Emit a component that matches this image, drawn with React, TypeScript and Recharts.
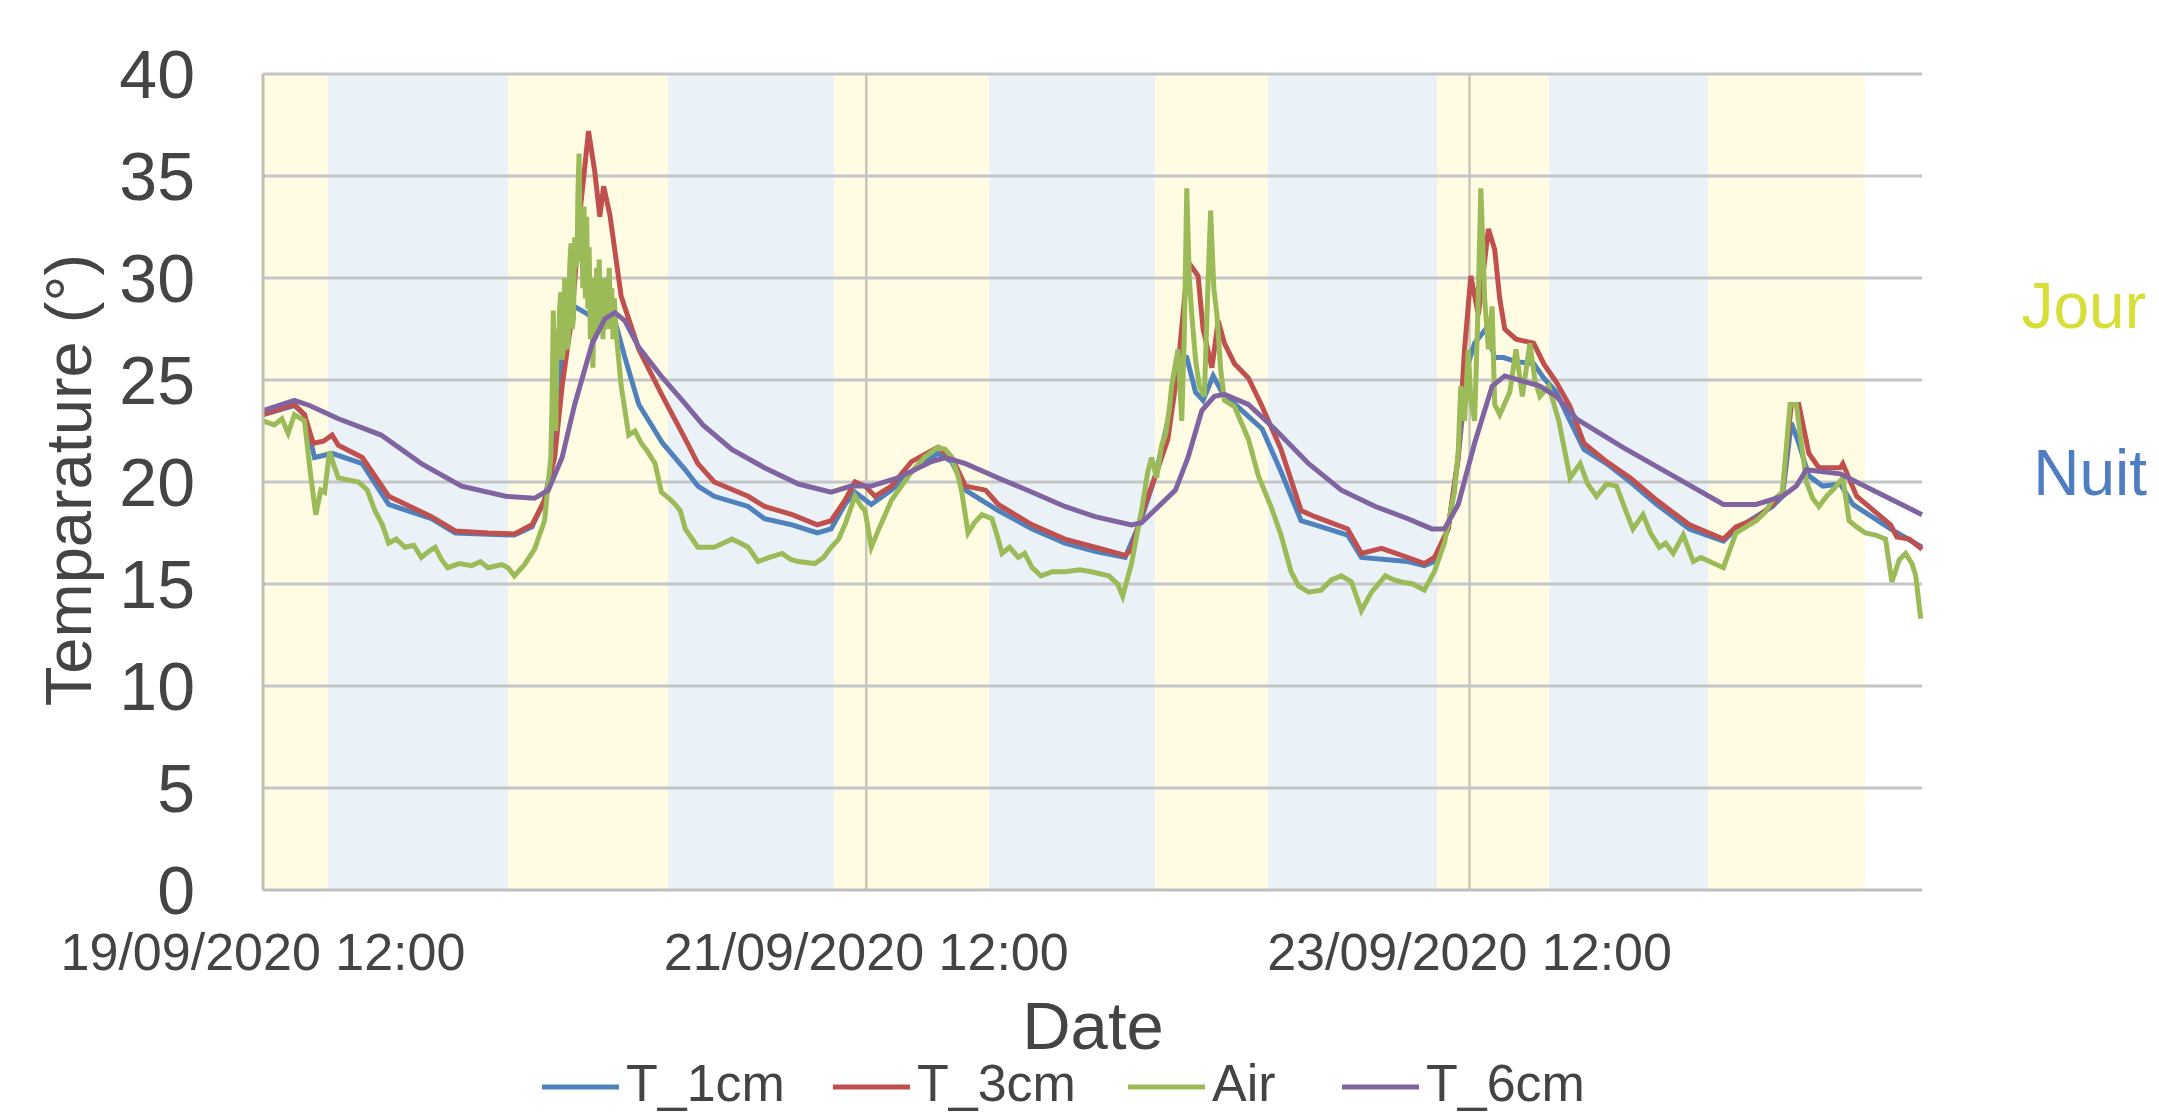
import { LineChart, Line, XAxis, YAxis, CartesianGrid, ReferenceLine, Label } from 'recharts'

// x values are hours elapsed since 19/09/2020 12:00
const X_MAX = 132
const xTicks = [0, 48, 96]
const xTickLabels = ['19/09/2020 12:00', '21/09/2020 12:00', '23/09/2020 12:00']
const yTicks = [0, 5, 10, 15, 20, 25, 30, 35, 40]

// day / night periods [start, end] in hours
const jourPeriods = [[0, 5.2], [19.5, 32.2], [45.4, 57.8], [71.0, 80.0], [93.4, 102.3], [115.0, 127.5]]
const nuitPeriods = [[5.2, 19.5], [32.2, 45.4], [57.8, 71.0], [80.0, 93.4], [102.3, 115.0]]

// [hour, °C]
const t1cm = [
  [0, 23.3], [2.5, 23.75], [3.3, 23.3], [4.1, 21.2], [5.5, 21.4], [7.9, 20.9], [10.0, 18.9], [13.4, 18.2],
  [15.3, 17.5], [20.0, 17.4], [21.4, 17.8], [22.4, 19.1], [23.2, 21.6], [24.0, 27.9], [24.8, 28.6], [25.9, 28.2],
  [27.0, 27.5], [28.0, 27.9], [28.8, 26.1], [29.9, 23.8], [31.8, 21.9], [33.6, 20.6], [34.6, 19.8], [35.9, 19.3],
  [38.6, 18.8], [39.9, 18.2], [42.1, 17.9], [44.1, 17.5], [45.2, 17.7], [46.3, 18.9], [47.1, 19.5], [48.4, 18.9],
  [50.0, 19.6], [51.6, 20.5], [53.7, 21.4], [54.8, 21.0], [55.9, 19.6], [58.5, 18.6], [61.2, 17.7], [63.8, 17.0],
  [66.2, 16.6], [68.6, 16.3], [69.9, 18.2], [71.0, 20.3], [72.0, 23.0], [72.8, 26.3], [73.5, 26.1], [74.2, 24.4],
  [74.8, 24.0], [75.6, 25.2], [76.3, 24.4], [77.9, 23.5], [79.5, 22.6], [81.0, 20.5], [82.6, 18.1], [83.7, 17.9],
  [86.3, 17.4], [87.4, 16.3], [91.1, 16.1], [92.4, 15.9], [93.2, 16.1], [94.3, 17.7], [95.1, 21.2], [95.8, 25.6],
  [96.4, 26.8], [97.3, 27.5], [98.0, 26.1], [98.7, 26.1], [99.7, 25.9], [101.1, 25.8], [101.9, 25.1], [102.9, 24.4],
  [104.0, 23.0], [105.1, 21.6], [106.9, 20.9], [108.8, 20.0], [110.9, 18.9], [113.5, 17.7], [116.2, 17.1], [117.2, 17.7],
  [120.1, 18.8], [120.9, 19.3], [121.6, 22.9], [122.2, 21.9], [123.0, 20.3], [124.1, 19.8], [125.5, 19.9], [126.5, 18.9],
  [129.5, 17.7], [132, 16.8],
]

const t3cm = [
  [0, 23.3], [2.5, 23.8], [3.3, 23.3], [4.0, 21.9], [4.8, 22.0], [5.5, 22.3], [6.0, 21.8], [7.9, 21.2],
  [10.0, 19.3], [13.4, 18.3], [15.3, 17.6], [17.9, 17.5], [20.0, 17.45], [21.4, 17.9], [22.4, 19.1], [23.2, 21.2],
  [23.8, 24.7], [24.6, 28.2], [25.2, 33.1], [25.9, 37.2], [26.4, 35.2], [26.8, 33.0], [27.1, 34.5], [27.6, 33.1],
  [28.5, 29.1], [29.9, 26.5], [31.8, 24.2], [33.6, 22.1], [34.6, 20.9], [35.9, 20.0], [38.6, 19.3], [39.9, 18.8],
  [42.1, 18.4], [44.1, 17.9], [45.2, 18.1], [46.3, 19.1], [47.1, 20.0], [47.9, 19.8], [48.7, 19.3], [50.0, 19.8],
  [51.6, 21.0], [53.7, 21.7], [54.8, 21.2], [55.9, 19.8], [57.5, 19.6], [58.5, 18.9], [61.2, 17.9], [63.8, 17.2],
  [66.2, 16.8], [68.6, 16.4], [69.1, 16.7], [69.9, 18.4], [71.0, 20.3], [72.0, 22.1], [72.8, 25.6], [73.6, 30.8],
  [74.4, 30.1], [74.8, 27.5], [75.5, 25.6], [76.0, 27.9], [76.5, 26.8], [77.3, 25.8], [78.4, 25.1], [79.5, 23.7],
  [81.0, 21.6], [82.6, 18.6], [83.7, 18.3], [86.3, 17.7], [87.4, 16.5], [89.0, 16.75], [91.1, 16.3], [92.4, 16.0],
  [93.2, 16.3], [94.3, 17.7], [95.1, 21.2], [95.6, 26.5], [96.1, 30.1], [96.7, 28.2], [97.5, 32.4], [98.0, 31.4],
  [98.4, 29.0], [98.8, 27.5], [99.7, 27.0], [101.1, 26.8], [101.9, 25.8], [102.9, 24.9], [104.0, 23.7], [105.1, 21.9],
  [106.9, 21.0], [108.8, 20.2], [110.9, 19.1], [113.5, 17.9], [116.2, 17.2], [117.2, 17.8], [118.8, 18.2], [120.1, 18.9],
  [120.9, 19.5], [121.6, 23.8], [122.2, 23.8], [123.0, 21.4], [123.8, 20.7], [125.5, 20.7], [125.7, 20.9], [126.8, 19.3],
  [129.5, 17.9], [130.0, 17.3], [131.0, 17.2], [132, 16.7],
]

const air = [
  [0, 23.0], [0.9, 22.8], [1.5, 23.1], [2.0, 22.4], [2.5, 23.3], [3.3, 23.0], [3.8, 20.3], [4.2, 18.4],
  [4.6, 19.6], [4.9, 19.5], [5.3, 21.5], [5.6, 20.9], [6.0, 20.2], [7.6, 20.0], [8.3, 19.6], [8.9, 18.6],
  [9.5, 17.9], [10.0, 17.0], [10.6, 17.2], [11.3, 16.8], [12.0, 16.9], [12.6, 16.3], [13.2, 16.6], [13.7, 16.8],
  [14.2, 16.2], [14.7, 15.8], [15.6, 16.0], [16.6, 15.9], [17.3, 16.1], [17.9, 15.8], [19.0, 15.95], [19.5, 15.8],
  [20.0, 15.4], [20.8, 15.95], [21.6, 16.7], [22.4, 18.1], [22.9, 21.2],
  [23.0, 24.0], [23.1, 28.4], [23.2, 24.5], [23.3, 22.5], [23.4, 27.5], [23.5, 26.0], [23.6, 28.5], [23.7, 29.3],
  [23.8, 26.0], [23.9, 26.5], [24.0, 30.0], [24.1, 28.8], [24.2, 26.5], [24.3, 27.0], [24.4, 30.5], [24.5, 31.7],
  [24.6, 27.5], [24.7, 28.0], [24.8, 32.0], [24.9, 30.5], [25.0, 31.0], [25.05, 34.0], [25.15, 36.1], [25.25, 30.8],
  [25.35, 33.0], [25.45, 29.5], [25.55, 33.5], [25.65, 29.0], [25.75, 33.0], [25.85, 28.5], [25.95, 31.5], [26.05, 27.0],
  [26.15, 30.0], [26.25, 25.6], [26.35, 29.0], [26.45, 27.0], [26.55, 30.5], [26.65, 28.0], [26.75, 30.9], [26.85, 27.5],
  [26.95, 29.5], [27.05, 27.0], [27.15, 30.0], [27.25, 27.5], [27.35, 29.0], [27.45, 28.0], [27.55, 30.5], [27.65, 27.5],
  [27.75, 29.5], [27.85, 27.0], [27.95, 29.0], [28.1, 27.3], [28.5, 24.7], [29.1, 22.3], [29.6, 22.5], [30.1, 21.9],
  [30.6, 21.5], [31.2, 20.9], [31.7, 19.5], [32.3, 19.2], [32.8, 18.9], [33.2, 18.6], [33.6, 17.7], [34.6, 16.8],
  [35.9, 16.8], [36.6, 17.0], [37.3, 17.2], [38.0, 17.0], [38.6, 16.8], [39.4, 16.1], [40.3, 16.3], [41.3, 16.5],
  [42.0, 16.2], [42.6, 16.1], [43.9, 16.0], [44.6, 16.3], [45.2, 16.8], [45.8, 17.2], [46.3, 17.9], [47.1, 19.3],
  [47.6, 18.8], [47.9, 18.6], [48.4, 16.8], [49.0, 17.7], [49.5, 18.4], [50.0, 19.1], [50.8, 19.8], [51.6, 20.5],
  [52.6, 21.2], [53.7, 21.7], [54.3, 21.6], [54.8, 21.2], [55.3, 20.3], [55.6, 19.5], [56.1, 17.5], [56.6, 18.0],
  [57.2, 18.4], [58.0, 18.2], [58.4, 17.4], [58.8, 16.5], [59.4, 16.8], [60.1, 16.3], [60.6, 16.5], [61.2, 15.8],
  [61.9, 15.4], [62.8, 15.6], [63.8, 15.6], [65.0, 15.7], [65.9, 15.6], [67.3, 15.4], [68.0, 15.0], [68.4, 14.4],
  [69.1, 16.0], [69.9, 18.6], [70.4, 20.5], [70.7, 21.2], [71.1, 20.2], [71.5, 21.8], [71.8, 22.3], [72.1, 23.5],
  [72.3, 24.7], [72.6, 25.8], [72.8, 26.5], [73.1, 23.0], [73.3, 27.0], [73.5, 34.4], [73.7, 30.0], [73.9, 28.2],
  [74.2, 26.0], [74.5, 24.7], [74.9, 24.2], [75.15, 29.0], [75.4, 33.3], [75.65, 29.5], [75.9, 28.2], [76.2, 25.5],
  [76.5, 24.0], [77.3, 23.7], [78.4, 22.1], [79.2, 20.3], [80.2, 18.8], [81.0, 17.4], [81.8, 15.6], [82.4, 14.9],
  [83.2, 14.6], [84.2, 14.7], [85.0, 15.2], [85.8, 15.4], [86.6, 15.1], [87.4, 13.7], [88.2, 14.6], [89.3, 15.4],
  [90.0, 15.2], [90.6, 15.1], [91.5, 15.0], [92.4, 14.7], [93.2, 15.6], [94.0, 17.0], [94.8, 19.5], [95.1, 21.5],
  [95.3, 24.7], [95.6, 23.0], [95.9, 26.5], [96.1, 24.0], [96.4, 23.0], [96.65, 28.0], [96.9, 34.4], [97.2, 29.0],
  [97.5, 26.5], [97.8, 28.6], [98.0, 23.8], [98.4, 23.3], [99.2, 24.4], [99.7, 26.5], [100.2, 24.2], [100.8, 26.8],
  [101.2, 25.0], [101.6, 24.2], [102.3, 24.7], [103.1, 23.0], [104.0, 20.2], [104.8, 20.9], [105.4, 19.9], [106.1, 19.3],
  [106.9, 19.9], [107.7, 19.8], [108.3, 18.8], [109.0, 17.7], [109.8, 18.4], [110.4, 17.5], [111.1, 16.8], [111.6, 17.0],
  [112.2, 16.5], [113.0, 17.4], [113.8, 16.1], [114.4, 16.3], [115.1, 16.1], [116.2, 15.8], [117.2, 17.5], [118.0, 17.8],
  [118.8, 18.1], [119.5, 18.5], [120.1, 19.1], [120.9, 19.5], [121.5, 23.8], [122.0, 23.8], [122.8, 20.0], [123.3, 19.2],
  [123.8, 18.8], [124.4, 19.3], [124.9, 19.6], [125.7, 20.2], [126.2, 18.1], [126.8, 17.8], [127.5, 17.5], [128.3, 17.4],
  [129.1, 17.2], [129.6, 15.1], [130.2, 16.2], [130.7, 16.5], [131.2, 16.0], [131.5, 15.4], [131.9, 13.3],
]

const t6cm = [
  [0, 23.5], [2.5, 24.0], [3.7, 23.75], [6.0, 23.1], [9.4, 22.3], [12.6, 20.9], [15.8, 19.8], [19.3, 19.3],
  [21.6, 19.2], [22.7, 19.6], [23.8, 21.2], [24.8, 23.8], [26.2, 26.8], [27.2, 28.0], [28.0, 28.3], [28.8, 27.9],
  [29.9, 26.6], [31.8, 25.1], [33.5, 23.9], [35.0, 22.8], [37.3, 21.6], [39.9, 20.7], [42.6, 19.9], [45.2, 19.5],
  [46.8, 19.8], [48.4, 19.8], [50.5, 20.2], [53.2, 21.0], [54.3, 21.2], [55.9, 20.9], [58.5, 20.2], [61.2, 19.5],
  [63.8, 18.8], [66.2, 18.3], [69.1, 17.9], [69.9, 18.0], [72.6, 19.6], [73.6, 21.2], [74.7, 23.5], [75.7, 24.2],
  [76.5, 24.3], [78.4, 23.8], [80.5, 22.6], [83.2, 20.9], [85.8, 19.6], [88.5, 18.8], [91.1, 18.2], [93.0, 17.7],
  [94.0, 17.7], [95.1, 18.9], [96.4, 21.9], [97.8, 24.7], [98.8, 25.2], [101.6, 24.7], [102.9, 24.2], [104.5, 23.1],
  [108.2, 21.7], [112.2, 20.3], [116.2, 18.9], [118.8, 18.9], [120.9, 19.3], [122.0, 19.8], [122.8, 20.6], [125.5, 20.4],
  [128.1, 19.6], [132, 18.4],
]

const series = [
  { name: 'T_1cm', color: '#4F81BD', points: t1cm },
  { name: 'T_3cm', color: '#C0504D', points: t3cm },
  { name: 'Air', color: '#9BBB59', points: air },
  { name: 'T_6cm', color: '#8064A2', points: t6cm },
]

const FONT = '"Liberation Sans", Arial, sans-serif'
const TEXT = '#444444'
const JOUR_FILL = '#FFFCE3'
const NUIT_FILL = '#EAF2F7'
const GRID = '#C3C5C8'

// stripe boundaries (hours) and their fills, day and night interleaved, nothing after the last day
const stripes = [...jourPeriods.map((p) => ({ start: p[0], fill: JOUR_FILL })), ...nuitPeriods.map((p) => ({ start: p[0], fill: NUIT_FILL }))]
  .sort((a, b) => a.start - b.start)
  .concat([{ start: jourPeriods[jourPeriods.length - 1][1], fill: 'none' }])

const toRows = (pts: number[][]) => pts.map(([h, v]) => ({ h, v }))

const hourToX = (xAxis: any, offset: any, h: number) =>
  xAxis && typeof xAxis.scale === 'function' ? xAxis.scale(h) : offset.left + (h / X_MAX) * offset.width

const YTick = (props: any) => (
  <text x={props.x - 66} y={props.y} dy="0.36em" textAnchor="end" fontSize={68} fill={TEXT} fontFamily={FONT}>
    {props.payload.value}
  </text>
)

const XTick = (props: any) => {
  const i = xTicks.indexOf(props.payload.value)
  return (
    <text x={props.x} y={props.y + 78} textAnchor="middle" fontSize={52} fill={TEXT} fontFamily={FONT}>
      {xTickLabels[i]}
    </text>
  )
}

// legend positions along the bottom edge
const legendX = [542, 833, 1128, 1342]

export default function App() {
  return (
    <div style={{ position: 'absolute', left: 0, top: 0, width: 2159, height: 1115, background: '#fff', overflow: 'hidden' }}>
      <LineChart width={2159} height={1115} margin={{ top: 74, right: 237, left: 0, bottom: 0 }}>
        {/* day / night bands */}
        <CartesianGrid
          horizontal={false}
          vertical
          stroke="none"
          strokeWidth={0}
          verticalFill={stripes.map((s) => s.fill)}
          fillOpacity={1}
          verticalCoordinatesGenerator={({ xAxis, offset }: any) => stripes.map((s) => hourToX(xAxis, offset, s.start))}
        />
        <CartesianGrid
          horizontal={false}
          vertical
          stroke="#C8C6B4"
          strokeWidth={2.5}
          verticalCoordinatesGenerator={({ xAxis, offset }: any) => xTicks.slice(1).map((h) => hourToX(xAxis, offset, h))}
        />
        {yTicks.slice(1).map((v) => (
          <ReferenceLine key={v} y={v} stroke={GRID} strokeWidth={3} />
        ))}
        <XAxis
          type="number"
          dataKey="h"
          domain={[0, X_MAX]}
          ticks={xTicks}
          interval={0}
          height={225}
          tick={<XTick />}
          tickLine={false}
          tickSize={0}
          axisLine={{ stroke: '#BFBFBF', strokeWidth: 3 }}
          allowDuplicatedCategory={false}
        >
          <Label
            content={() => (
              <text x={1093} y={1049} textAnchor="middle" fontSize={67} fill={TEXT} fontFamily={FONT}>
                Date
              </text>
            )}
          />
        </XAxis>
        <YAxis
          type="number"
          domain={[0, 40]}
          ticks={yTicks}
          interval={0}
          width={263}
          tick={<YTick />}
          tickLine={false}
          tickSize={0}
          axisLine={{ stroke: '#C0BFB0', strokeWidth: 3 }}
        >
          <Label
            content={() => (
              <text
                x={68}
                y={480}
                transform="rotate(-90 68 480)"
                textAnchor="middle"
                dominantBaseline="central"
                fontSize={65}
                fill={TEXT}
                fontFamily={FONT}
              >
                Temparature (°)
              </text>
            )}
          />
        </YAxis>
        {series.map((s) => (
          <Line
            key={s.name}
            data={toRows(s.points)}
            dataKey="v"
            name={s.name}
            type="linear"
            stroke={s.color}
            strokeWidth={5}
            dot={false}
            isAnimationActive={false}
          />
        ))}
      </LineChart>
      <svg width={2159} height={1115} style={{ position: 'absolute', left: 0, top: 0, pointerEvents: 'none' }}>
        <text x={2146} y={328} textAnchor="end" fontSize={64} fill="#D8DE38" fontFamily={FONT}>Jour</text>
        <text x={2147} y={495} textAnchor="end" fontSize={64} fill="#4F7DC1" fontFamily={FONT}>Nuit</text>
        {series.map((s, i) => (
          <g key={s.name}>
            <line x1={legendX[i]} x2={legendX[i] + 77} y1={1087} y2={1087} stroke={s.color} strokeWidth={5} />
            <text x={legendX[i] + 84} y={1101} fontSize={52} fill={TEXT} fontFamily={FONT}>{s.name}</text>
          </g>
        ))}
      </svg>
    </div>
  )
}
